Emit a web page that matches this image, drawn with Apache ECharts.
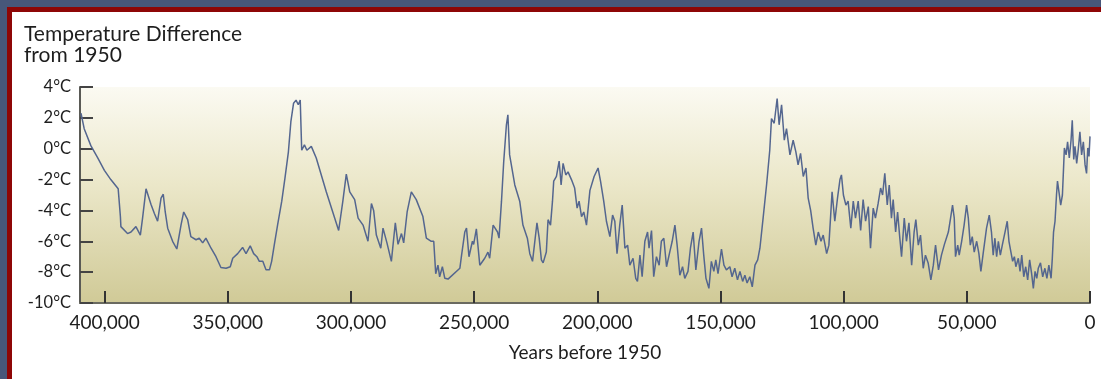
<!DOCTYPE html>
<html>
<head>
<meta charset="utf-8">
<script src="https://cdn.jsdelivr.net/npm/echarts@6/dist/echarts.min.js"></script>
<style>
  html, body { margin: 0; padding: 0; width: 1101px; height: 379px; overflow: hidden; background: #47577a; }
  #frame { position: absolute; left: 7px; top: 7px; width: 1110px; height: 400px; background: #8e0606; }
  #inner { position: absolute; left: 12px; top: 12px; width: 1100px; height: 380px; background: #ffffff; }
  #chart { position: absolute; left: 0; top: 0; width: 1101px; height: 379px; }
</style>
</head>
<body>
<div id="frame"></div>
<div id="inner"></div>
<div id="chart"></div>
<script>
// Years before 1950
const years = [
  409600, 408300, 405600, 402800, 400100, 397500, 394500, 394100, 393600, 393400,
  390700, 389300, 387300, 385500, 384600, 383200, 382600, 381200, 379800, 378500,
  377100, 376200, 375400, 374400, 372400, 370700, 369000, 367900, 366300, 365000,
  362900, 361600, 360200, 358900, 356800, 354800, 352800, 350700, 349000, 348000,
  346000, 344000, 342600, 340900, 339500, 338200, 337200, 335800, 334500, 333100,
  332200, 331100, 329800, 328100, 326800, 325400, 324400, 323300, 322300, 321400,
  320600, 320000, 318900, 317900, 316100, 314100, 310000, 305000, 303300, 301900,
  300500, 298500, 297100, 295100, 293100, 291700, 290800, 289700, 287900, 287000,
  285400, 283600, 282000, 280900, 279500, 278600, 277200, 275500, 273500, 270800,
  269400, 267400, 266400, 265600, 264700, 264000, 262900, 261900, 260600, 255800,
  255100, 253800, 253100, 252100, 250700, 250200, 249100, 247700, 245700, 244400,
  243700, 242300, 240500, 239900, 238900, 238000, 236900, 236300, 235600, 233500,
  231500, 230200, 228400, 227400, 226300, 224500, 223600, 222700, 222000, 220700,
  220000, 219000, 218200, 217700, 216600, 215500, 214700, 213900, 212800, 211900,
  210500, 209200, 208200, 207400, 206400, 205500, 204400, 203000, 201300, 199700,
  198700, 197400, 196300, 194900, 193800, 192900, 192000, 190900, 189900, 188800,
  187700, 186800, 185500, 184400, 183700, 182700, 181800, 180700, 179600, 179000,
  178000, 177100, 176000, 174900, 174000, 173000, 171900, 170600, 169600, 168500,
  167600, 166500, 165400, 164500, 163200, 162200, 161100, 160000, 158700, 157700,
  156800, 155900, 154700, 153700, 152700, 151900, 151000, 149600, 148600, 147600,
  146200, 145300, 144200, 143100, 142100, 141000, 140100, 139200, 138100, 137100,
  136000, 134900, 134000, 132700, 131300, 130000, 129300, 128200, 127000, 126200,
  125200, 124100, 123200, 121800, 120500, 119400, 118500, 117500, 116400, 115300,
  114400, 113400, 112400, 111300, 110300, 109200, 108300, 106900, 106000, 104700,
  103600, 102500, 101500, 100900, 100100, 99100, 98200, 97100, 96100, 95200,
  94100, 93100, 92100, 91100, 90000, 89100, 88000, 87100, 86000, 85000,
  84200, 83300, 82300, 81500, 80600, 79900, 78900, 78100, 77200, 76500,
  75400, 74500, 73500, 72400, 71400, 70700, 69700, 68800, 67700, 66800,
  65700, 64600, 63600, 62700, 61500, 60300, 59100, 57500, 56600, 55800,
  55100, 54600, 53700, 53100, 52100, 51100, 50100, 49400, 48600, 47800,
  47000, 46000, 45100, 44300, 43300, 42000, 40900, 40000, 39300, 38600,
  37900, 37200, 36400, 35600, 34500, 33600, 32900, 32100, 31400, 30700,
  30100, 29100, 28400, 27700, 26900, 26100, 25300, 24500, 23700, 23000,
  22300, 21600, 21000, 20100, 19200, 18300, 17500, 16700, 15800, 15300,
  14800, 14200, 13600, 13200, 12600, 11900, 11200, 10800, 10400, 9700,
  9100, 8400, 7700, 7200, 6600, 6100, 5400, 4800, 4100, 3400,
  2700, 2000, 1400, 900, 400, 0
];
// Temperature difference from 1950 (°C)
const temps = [
  2.3, 1.3, 0.2, -0.6, -1.4, -2.0, -2.6, -3.4, -4.4, -5.05,
  -5.5, -5.4, -5.05, -5.6, -4.5, -2.6, -2.5, -3.6, -4.2, -4.7,
  -3.2, -2.95, -4.1, -5.15, -6.0, -6.5, -4.95, -4.1, -4.6, -5.7,
  -5.9, -5.8, -6.1, -5.8, -6.45, -7.0, -7.7, -7.75, -7.65, -7.1,
  -6.8, -6.4, -6.8, -6.3, -6.8, -7.0, -7.3, -7.3, -7.85, -7.85,
  -7.3, -6.2, -4.95, -3.4, -1.9, -0.2, 1.75, 2.95, 3.15, 2.85,
  3.15, -0.1, 0.25, -0.1, 0.15, -0.6, -2.8, -5.3, -3.4, -1.65,
  -2.8, -3.3, -4.5, -4.95, -6.0, -3.55, -4.0, -5.6, -6.45, -5.15,
  -6.1, -7.3, -4.8, -6.2, -5.5, -6.1, -4.1, -2.8, -3.3, -4.4,
  -5.8, -6.0, -6.0, -8.1, -7.55, -8.3, -7.65, -8.4, -8.45, -7.75,
  -6.9, -5.4, -5.15, -7.0, -6.0, -6.2, -5.2, -7.55, -7.1, -6.7,
  -7.1, -4.95, -5.4, -5.8, -3.4, -0.85, 1.55, 2.2, -0.4, -2.35,
  -3.4, -4.95, -5.8, -6.8, -7.3, -4.8, -5.8, -7.2, -7.4, -6.7,
  -4.6, -4.95, -3.4, -2.1, -1.8, -0.8, -2.35, -0.95, -1.7, -1.5,
  -2.0, -2.55, -3.85, -3.4, -4.4, -4.1, -4.95, -2.7, -1.8, -1.25,
  -2.1, -3.4, -4.7, -5.7, -4.3, -4.7, -6.8, -4.95, -3.65, -6.45,
  -6.25, -7.55, -7.1, -8.4, -8.6, -6.9, -8.3, -6.0, -5.4, -6.45,
  -5.3, -8.3, -7.0, -7.55, -6.0, -5.8, -7.65, -6.7, -6.0, -4.95,
  -6.25, -8.2, -7.65, -8.4, -7.95, -6.45, -5.4, -7.85, -6.0, -5.15,
  -6.9, -8.4, -9.05, -7.3, -7.95, -7.2, -8.1, -6.5, -7.55, -7.85,
  -7.65, -8.3, -7.75, -8.5, -7.95, -8.6, -8.2, -8.7, -8.3, -8.95,
  -7.55, -7.2, -6.45, -4.5, -2.35, -0.1, 1.95, 1.65, 3.25, 1.55,
  2.85, 0.55, 1.3, -0.4, 0.55, -0.2, -1.05, -0.3, -1.8, -1.25,
  -3.2, -4.0, -5.15, -6.25, -5.4, -6.0, -5.6, -6.8, -6.25, -2.8,
  -4.7, -3.2, -2.0, -1.7, -3.0, -3.65, -3.4, -5.15, -3.4, -4.5,
  -3.4, -5.3, -3.3, -4.7, -3.75, -6.45, -3.85, -4.5, -3.55, -2.55,
  -3.0, -1.6, -3.65, -2.35, -4.5, -3.3, -5.4, -4.1, -5.8, -7.0,
  -4.5, -6.0, -4.8, -7.55, -5.4, -4.6, -6.25, -5.6, -7.75, -6.9,
  -7.4, -8.5, -7.55, -6.25, -7.85, -6.9, -6.2, -5.4, -4.5, -3.65,
  -4.5, -7.0, -6.25, -6.9, -6.0, -4.95, -3.65, -4.5, -6.25, -5.7,
  -6.7, -6.0, -6.8, -7.95, -6.7, -5.15, -4.3, -5.4, -6.9, -5.8,
  -7.0, -6.0, -6.9, -6.25, -5.4, -4.7, -6.0, -6.7, -7.3, -7.0,
  -7.65, -7.1, -7.95, -6.9, -8.3, -7.65, -8.5, -7.2, -8.1, -9.05,
  -7.95, -8.4, -7.75, -7.4, -8.3, -7.75, -8.4, -7.55, -8.4, -7.1,
  -5.4, -4.7, -3.0, -2.1, -2.8, -3.65, -3.0, -1.5, 0.05, -0.4,
  0.45, -0.6, 0.55, 1.85, -0.7, 0.15, -0.95, -0.1, 1.1, -0.4,
  0.45, -1.05, -1.6, 0.05, -0.5, 0.8
];
const xTicks = [0, 50000, 100000, 150000, 200000, 250000, 300000, 350000, 400000];
const yTicks = [-10, -8, -6, -4, -2, 0, 2, 4];

const FONT = 'Lato, "Open Sans", sans-serif';
const chart = echarts.init(document.getElementById('chart'), null, { renderer: 'canvas' });
chart.setOption({
  backgroundColor: 'transparent',
  animation: false,
  title: {
    text: 'Temperature Difference\nfrom 1950',
    left: 19, top: 19, padding: 5,
    textStyle: { fontFamily: FONT, fontSize: 21, fontWeight: 'normal', color: '#1e1e1e', lineHeight: 21 }
  },
  grid: {
    left: 80, right: 11, top: 87, bottom: 76,
    show: true, borderWidth: 0,
    backgroundColor: {
      type: 'linear', x: 0, y: 0, x2: 0, y2: 1,
      colorStops: [
        { offset: 0, color: '#fbfaf2' },
        { offset: 0.45, color: '#ebe7c9' },
        { offset: 1, color: '#d0ca97' }
      ]
    }
  },
  xAxis: {
    type: 'value', inverse: true, min: 0, max: 410000, interval: 50000,
    name: 'Years before 1950', nameLocation: 'middle', nameGap: 40,
    nameTextStyle: { fontFamily: FONT, fontSize: 19, color: '#1e1e1e' },
    axisLine: { show: true, onZero: false, lineStyle: { color: '#6a6a60', width: 2 } },
    axisTick: { show: true, inside: true, length: 12, lineStyle: { color: '#333', width: 2 },
      customValues: xTicks },
    axisLabel: { fontFamily: FONT, fontSize: 19, color: '#1e1e1e', margin: 10,
      customValues: xTicks,
      formatter: v => v.toLocaleString('en-US') },
    splitLine: { show: false }
  },
  yAxis: {
    type: 'value', min: -10, max: 4, interval: 2,
    axisLine: { show: true, onZero: false, lineStyle: { color: '#5a5a55', width: 2 } },
    axisTick: { show: true, inside: true, length: 13, lineStyle: { color: '#444', width: 2 },
      customValues: yTicks },
    axisLabel: { fontFamily: FONT, fontSize: 16.5, color: '#1e1e1e', margin: 9,
      customValues: yTicks,
      formatter: v => v + '°C' },
    splitLine: { show: false }
  },
  series: [{
    type: 'line',
    data: years.map((y, i) => [y, temps[i]]),
    showSymbol: false,
    symbol: 'none',
    lineStyle: { color: '#54668f', width: 1.5 },
    clip: true
  }]
});
</script>
</body>
</html>
